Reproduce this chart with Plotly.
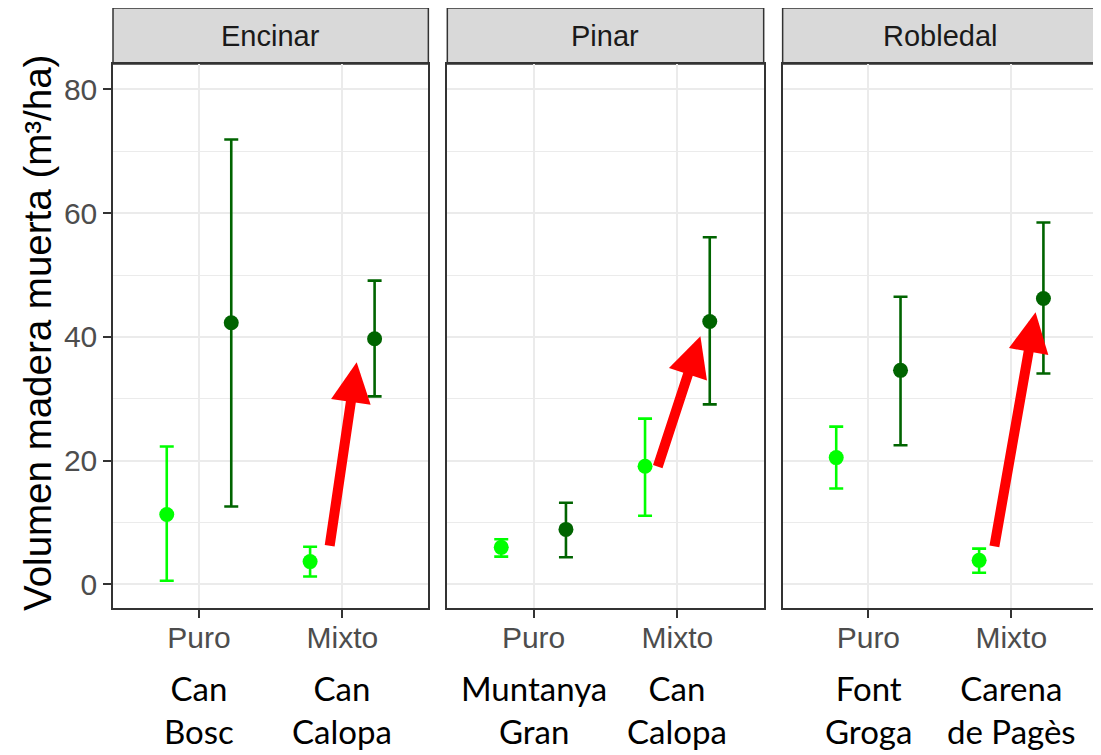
import plotly.graph_objects as go

forests = ["Encinar", "Pinar", "Robledal"]
stand_types = ["Puro", "Mixto"]
sites = [["Can<br>Bosc", "Can<br>Calopa"],
         ["Muntanya<br>Gran", "Can<br>Calopa"],
         ["Font<br>Groga", "Carena<br>de Pagès"]]

# light green series, per forest: [Puro, Mixto]
light_mean = [[11.3, 3.7], [6.0, 19.1], [20.5, 3.9]]
light_low = [[0.6, 1.3], [4.5, 11.1], [15.5, 1.9]]
light_high = [[22.3, 6.1], [7.3, 26.8], [25.5, 5.8]]
# dark green series, per forest: [Puro, Mixto]
dark_mean = [[42.3, 39.7], [8.9, 42.5], [34.6, 46.2]]
dark_low = [[12.6, 30.4], [4.4, 29.1], [22.5, 34.1]]
dark_high = [[71.9, 49.1], [13.2, 56.1], [46.5, 58.5]]

# red highlight arrows (data coords: tail -> head), one per forest
arrow_tail = [(1.91, 6.0), (1.86, 18.8), (1.88, 5.9)]
arrow_head = [(2.10, 35.9), (2.16, 40.1), (2.17, 44.0)]

LIGHT = "#00ff00"
DARK = "#006400"
DODGE = 0.225

# the page body has an 8px margin: size the figure so it fills the window
W, H = 1093, 747
ML, MR, MT, MB = 105, 2, 56, 147
plot_w = W - ML - MR
plot_h = H - MT - MB

def dom(a, b):
    return (a / plot_w, b / plot_w)

domains = [dom(0, 316), dom(335, 652), dom(671, 986)]
strip_h = 56 / plot_h

fig = go.Figure()
annotations = []
shapes = []

for i, forest in enumerate(forests):
    xa = "x" if i == 0 else f"x{i+1}"
    ya = "y" if i == 0 else f"y{i+1}"
    pos = [k + 1 for k in range(len(stand_types))]
    for mean, low, high, col, off in [
        (light_mean[i], light_low[i], light_high[i], LIGHT, -DODGE),
        (dark_mean[i], dark_low[i], dark_high[i], DARK, DODGE),
    ]:
        fig.add_trace(go.Scatter(
            x=[p + off for p in pos], y=mean, mode="markers",
            xaxis=xa, yaxis=ya, showlegend=False,
            marker=dict(color=col, size=15),
            error_y=dict(type="data", symmetric=False,
                         array=[h - m for h, m in zip(high, mean)],
                         arrayminus=[m - l for m, l in zip(mean, low)],
                         color=col, thickness=2.6, width=7),
        ))
    # strip
    d0, d1 = domains[i]
    shapes.append(dict(type="rect", xref="paper", yref="paper",
                       x0=d0, x1=d1, y0=1.0, y1=1.0 + strip_h,
                       fillcolor="#d9d9d9", line=dict(color="#333333", width=1.5),
                       layer="below"))
    annotations.append(dict(text=forest, xref="paper", yref="paper",
                            x=(d0 + d1) / 2, y=1.0 + strip_h / 2,
                            showarrow=False, xanchor="center", yanchor="middle",
                            font=dict(family="Liberation Sans, Arial", size=29, color="#1a1a1a")))
    # site labels
    for k, s in enumerate(sites[i]):
        annotations.append(dict(text=s, xref=xa, yref="paper", x=pos[k], y=-0.106,
                                showarrow=False, xanchor="center", yanchor="top",
                                font=dict(family="Lato, Carlito, sans-serif", size=33, color="black")))
    # arrow
    (tx, ty), (hx, hy) = arrow_tail[i], arrow_head[i]
    annotations.append(dict(x=hx, y=hy, ax=tx, ay=ty, xref=xa, yref=ya,
                            axref=xa, ayref=ya, text="", showarrow=True,
                            arrowhead=2, arrowsize=0.8, arrowwidth=10,
                            arrowcolor="#ff0000"))

annotations.append(dict(text="Volumen madera muerta (m³/ha)", xref="paper", yref="paper",
                        x=-75 / plot_w, y=0.506, textangle=-90, showarrow=False,
                        xanchor="center", yanchor="middle",
                        font=dict(family="Liberation Sans, Arial", size=38.5, color="black")))

layout = dict(width=W, height=H, paper_bgcolor="white", plot_bgcolor="white",
              margin=dict(l=ML, r=MR, t=MT, b=MB, pad=0), showlegend=False,
              annotations=annotations, shapes=shapes)

tickfont = dict(family="Liberation Sans, Arial", size=30, color="#4d4d4d")
for i in range(3):
    xk = "xaxis" if i == 0 else f"xaxis{i+1}"
    yk = "yaxis" if i == 0 else f"yaxis{i+1}"
    ya = "y" if i == 0 else f"y{i+1}"
    xa = "x" if i == 0 else f"x{i+1}"
    layout[xk] = dict(domain=list(domains[i]), anchor=ya, range=[0.4, 2.6],
                      tickvals=[1, 2], ticktext=stand_types, ticks="outside",
                      ticklen=8, tickwidth=2, tickcolor="#333333",
                      ticklabelstandoff=-6,
                      showgrid=True, gridcolor="#ebebeb", gridwidth=2,
                      showline=True, linecolor="#333333", linewidth=1.5, mirror=True,
                      zeroline=False, tickfont=tickfont, fixedrange=True)
    layout[yk] = dict(domain=[0, 1], anchor=xa, range=[-3.8, 84.1],
                      tickvals=[0, 20, 40, 60, 80], ticks="outside" if i == 0 else "",
                      ticklen=8, tickwidth=2, tickcolor="#333333",
                      showticklabels=(i == 0),
                      showgrid=True, gridcolor="#ebebeb", gridwidth=2,
                      minor=dict(tickvals=[10, 30, 50, 70], showgrid=True,
                                 gridcolor="#ebebeb", gridwidth=1, ticks=""),
                      showline=True, linecolor="#333333", linewidth=1.5, mirror=True,
                      zeroline=False, tickfont=tickfont, fixedrange=True)

fig.update_layout(**layout)
fig.write_html("out.html")
